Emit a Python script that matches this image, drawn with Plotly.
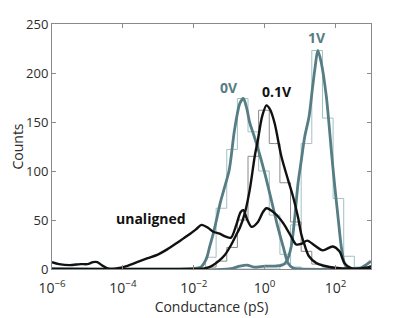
import numpy as np
import plotly.graph_objects as go

# ---------------- data (x given as log10 of conductance in pS) ----------------
unaligned_logx = [-6.0, -5.8, -5.5, -5.2, -5.0, -4.84, -4.72, -4.6, -4.45, -4.3, -4.1, -3.9,
                  -3.6, -3.3, -3.0, -2.75, -2.5, -2.3, -2.1, -1.92, -1.78, -1.6, -1.45,
                  -1.27, -1.1, -0.95, -0.8, -0.68, -0.6, -0.5, -0.37, -0.19, -0.05, 0.05,
                  0.28, 0.52, 0.75, 0.89, 1.05, 1.2, 1.41, 1.64, 1.92, 2.11, 2.25, 2.44,
                  2.7, 2.9, 3.0]
unaligned_counts = [7, 5, 4, 5, 5, 7, 7, 4, 1, 0, 1, 3,
                    7, 11, 15, 20, 26, 31, 36, 41, 45, 42, 38,
                    36, 33, 32, 45, 58, 60, 51, 43, 48, 58, 62,
                    57, 47, 33, 25, 26, 29, 24, 19, 23, 18, 6, 1,
                    0.5, 1.5, 3]

v01_logx = [-6.0, -2.0, -1.7, -1.5, -1.3, -1.13, -0.94, -0.8, -0.7, -0.56, -0.42, -0.28,
            -0.19, -0.07, 0.05, 0.15, 0.28, 0.47, 0.66, 0.8, 0.94, 1.03, 1.13, 1.25,
            1.46, 1.83, 2.25, 2.5, 3.0]
v01_counts = [0, 0, 0.5, 3, 8, 14, 25, 35, 42, 57, 81, 115,
              132, 156, 167, 163, 149, 115, 91, 74, 53, 36, 24, 13,
              6, 2, 0.5, 0, 0]

v0_logx = [-6.0, -2.5, -2.0, -1.8, -1.65, -1.55, -1.45, -1.36, -1.25, -1.15, -1.0,
           -0.85, -0.7, -0.6, -0.5, -0.42, -0.3, -0.19, 0.0, 0.19, 0.37, 0.52,
           0.66, 0.8, 1.0, 3.0]
v0_counts = [0, 0, 0.5, 2, 10, 23, 36, 50, 68, 81, 101,
             142, 169, 174, 163, 149, 136, 123, 98, 70, 43, 23,
             6, 1, 0, 0]

v1_logx = [-6.0, -1.0, -0.7, -0.5, -0.3, 0.0, 0.3, 0.5, 0.62, 0.75, 0.85, 0.94,
           1.03, 1.13, 1.25, 1.35, 1.42, 1.5, 1.6, 1.74, 1.83, 1.88, 1.97,
           2.07, 2.16, 2.25, 2.34, 2.5, 2.7, 2.85, 3.0]
v1_counts = [0, 0, 3, 4, 2, 3, 3, 4, 8, 23, 53, 87,
             110, 135, 155, 185, 205, 223, 210, 176, 142, 121, 87,
             53, 23, 6, 1, 0, 1, 4, 8]

# histograms (bin centres, log10 pS)
hist_logx = [-2.12, -1.82, -1.52, -1.22, -0.92, -0.62, -0.32, -0.02, 0.28, 0.58,
             0.88, 1.18, 1.48, 1.78, 2.08, 2.38, 2.68]
hist_v0 = [0, 1, 12, 62, 122, 174, 140, 100, 55, 15, 2, 0, 0, 0, 0, 0, 0]
hist_v01 = [0, 0, 2, 8, 22, 50, 115, 162, 128, 88, 48, 18, 5, 2, 0, 0, 0]
hist_v1 = [0, 0, 0, 0, 0, 0, 0, 0, 0, 5, 45, 128, 223, 154, 72, 13, 2]

labels = ["unaligned", "0V", "0.1V", "1V"]

TEAL = "#557d83"
TEAL_LIGHT = "#a3c0c3"
BLACK = "#111111"
GREY_H = "#8a8a8a"
AXIS = "#8a8a8a"
TXT = "#2b2b2b"
FONT = "Open Sans"


def X(v):
    return 10 ** np.asarray(v, dtype=float)


fig = go.Figure()

for hx, hy, col in [(hist_logx, hist_v0, TEAL_LIGHT), (hist_logx, hist_v1, TEAL_LIGHT),
                    (hist_logx, hist_v01, GREY_H)]:
    fig.add_trace(go.Scatter(x=X(hx), y=hy, mode="lines", line=dict(color=col, width=1, shape="hvh"),
                             hoverinfo="skip", showlegend=False))

fig.add_trace(go.Scatter(x=X(v0_logx), y=v0_counts, mode="lines", name="0V",
                         line=dict(color=TEAL, width=2.8, shape="spline", smoothing=0.8), showlegend=False))
fig.add_trace(go.Scatter(x=X(v1_logx), y=v1_counts, mode="lines", name="1V",
                         line=dict(color=TEAL, width=2.8, shape="spline", smoothing=0.8), showlegend=False))
fig.add_trace(go.Scatter(x=X(unaligned_logx), y=unaligned_counts, mode="lines", name="unaligned",
                         line=dict(color=BLACK, width=2.4, shape="spline", smoothing=0.8), showlegend=False))
fig.add_trace(go.Scatter(x=X(v01_logx), y=v01_counts, mode="lines", name="0.1V",
                         line=dict(color=BLACK, width=2.4, shape="spline", smoothing=0.8), showlegend=False))

# labels
ann = [
    ("0V", -1.02, 185, TEAL),
    ("0.1V", 0.35, 181, BLACK),
    ("1V", 1.48, 236, TEAL),
    ("unaligned", -3.2, 52, BLACK),
]
for txt, lx, ly, col in ann:
    fig.add_annotation(x=lx, y=ly, xref="x", yref="y", text=f"<b>{txt}</b>", showarrow=False,
                       font=dict(family=FONT, size=14, color=col), xanchor="center", yanchor="middle")

tick_vals = [1e-6, 1e-4, 1e-2, 1, 1e2]
tick_text = ["10<sup>−6</sup>", "10<sup>−4</sup>", "10<sup>−2</sup>", "10<sup>0</sup>", "10<sup>2</sup>"]

# the page body adds an 8 px offset; margins are chosen so the plot box lands at
# x 52..371, y 24..269 in the 409x318 window
fig.update_layout(
    width=409, height=318,
    margin=dict(l=44, r=46, t=16, b=57),
    paper_bgcolor="white", plot_bgcolor="white",
    font=dict(family=FONT, size=13, color=TXT),
    xaxis=dict(type="log", range=[-6, 3], tickvals=tick_vals, ticktext=tick_text, automargin=False,
               ticks="inside", ticklen=4, tickcolor=AXIS, showline=True, linecolor=AXIS, linewidth=1,
               mirror="ticks", showgrid=False, zeroline=False, ticklabelstandoff=6,
               title=dict(text="Conductance (pS)", font=dict(size=14, color=TXT), standoff=5),
               tickfont=dict(size=14, color=TXT)),
    yaxis=dict(range=[0, 250], tickvals=[0, 50, 100, 150, 200, 250], automargin=False,
               ticks="inside", ticklen=4, tickcolor=AXIS, showline=True, linecolor=AXIS, linewidth=1,
               mirror="ticks", showgrid=False, zeroline=False,
               title=dict(text="Counts", font=dict(size=14, color=TXT), standoff=6),
               tickfont=dict(size=13, color=TXT)),
)

fig.write_html("out.html")
